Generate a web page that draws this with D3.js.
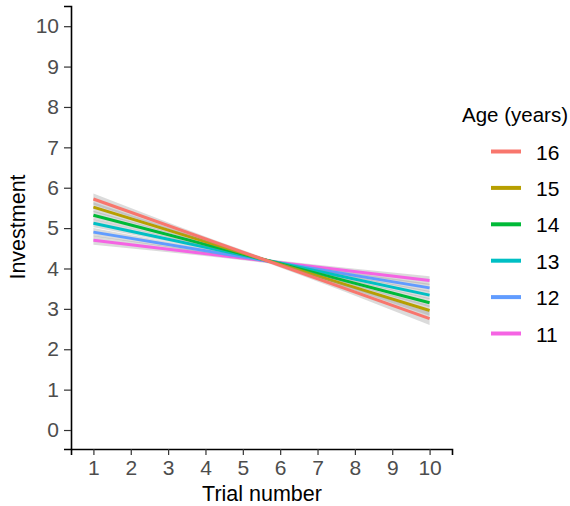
<!DOCTYPE html>
<html>
<head>
<meta charset="utf-8">
<script src="https://cdn.jsdelivr.net/npm/d3@7"></script>
<style>
  body { margin: 0; background: #fff; }
  text { font-family: Arial, "Liberation Sans", sans-serif; }
</style>
</head>
<body>
<svg id="chart" width="570" height="506"></svg>
<script>
// ages, top of legend first
var ages = ['16', '15', '14', '13', '12', '11'];
var colors = ['#F8766D', '#B79F00', '#00BA38', '#00BFC4', '#619CFF', '#F564E3'];
// fitted investment at trial 1 and trial 10
var startValues = [5.72, 5.52, 5.32, 5.12, 4.90, 4.70];
var endValues = [2.76, 2.96, 3.15, 3.34, 3.52, 3.70];
// half width of the grey confidence band at trial 1, middle and trial 10
var bandStart = [0.14, 0.12, 0.11, 0.10, 0.10, 0.11];
var bandMid = [0.05, 0.04, 0.04, 0.04, 0.04, 0.05];
var bandEnd = [0.16, 0.13, 0.11, 0.10, 0.10, 0.11];
var xTicks = [1, 2, 3, 4, 5, 6, 7, 8, 9, 10];
var yTicks = [0, 1, 2, 3, 4, 5, 6, 7, 8, 9, 10];

var svg = d3.select('#chart');
var x = d3.scaleLinear().domain([0.4, 10.6]).range([71, 452]);
var y = d3.scaleLinear().domain([-0.47, 10.5]).range([449, 6]);

var fits = ages.map(function(a, i){
  var mid = (startValues[i] + endValues[i]) / 2;
  return {
    age: a, color: colors[i],
    line: [[1, startValues[i]], [10, endValues[i]]],
    band: [
      [1, startValues[i] - bandStart[i], startValues[i] + bandStart[i]],
      [5.5, mid - bandMid[i], mid + bandMid[i]],
      [10, endValues[i] - bandEnd[i], endValues[i] + bandEnd[i]]
    ]
  };
});

var area = d3.area()
  .x(function(d){ return x(d[0]); })
  .y0(function(d){ return y(d[1]); })
  .y1(function(d){ return y(d[2]); })
  .curve(d3.curveNatural);
var line = d3.line()
  .x(function(d){ return x(d[0]); })
  .y(function(d){ return y(d[1]); });

// draw youngest first so the 16 line sits on top like ggplot order
var g = svg.append('g');
fits.slice().reverse().forEach(function(f){
  g.append('path').attr('d', area(f.band))
    .attr('fill', '#999999').attr('fill-opacity', 0.35);
  g.append('path').attr('d', line(f.line))
    .attr('fill', 'none').attr('stroke', f.color).attr('stroke-width', 3);
});

// axes
var yAxis = svg.append('g').attr('transform', 'translate(71,0)')
  .call(d3.axisLeft(y).tickValues(yTicks).tickSize(7).tickPadding(5));
var xAxis = svg.append('g').attr('transform', 'translate(0,449)')
  .call(d3.axisBottom(x).tickValues(xTicks).tickSize(6).tickPadding(5));
[yAxis, xAxis].forEach(function(ax){
  ax.select('.domain').attr('stroke', '#000').attr('stroke-width', 1.6);
  ax.selectAll('.tick line').attr('stroke', '#333').attr('stroke-width', 1.2);
  ax.selectAll('.tick text').attr('fill', '#4D4D4D')
    .style('font-size', '21px').style('font-family', 'Arial, "Liberation Sans", sans-serif');
});

svg.append('text').attr('x', 262).attr('y', 501).attr('text-anchor', 'middle')
  .style('font-size', '21.5px').text('Trial number');
svg.append('text').attr('transform', 'translate(25,227) rotate(-90)')
  .attr('text-anchor', 'middle').style('font-size', '21.5px').text('Investment');

// legend
var legend = svg.append('g');
legend.append('text').attr('x', 462).attr('y', 122)
  .style('font-size', '20.5px').text('Age (years)');
var rows = legend.selectAll('g.row').data(fits).enter().append('g')
  .attr('class', 'row')
  .attr('transform', function(d, i){ return 'translate(0,' + (151.5 + i * 36.4) + ')'; });
rows.append('line').attr('x1', 491).attr('x2', 521)
  .attr('stroke', function(d){ return d.color; }).attr('stroke-width', 4);
rows.append('text').attr('x', 536).attr('y', 8)
  .style('font-size', '21px').text(function(d){ return d.age; });
</script>
</body>
</html>
